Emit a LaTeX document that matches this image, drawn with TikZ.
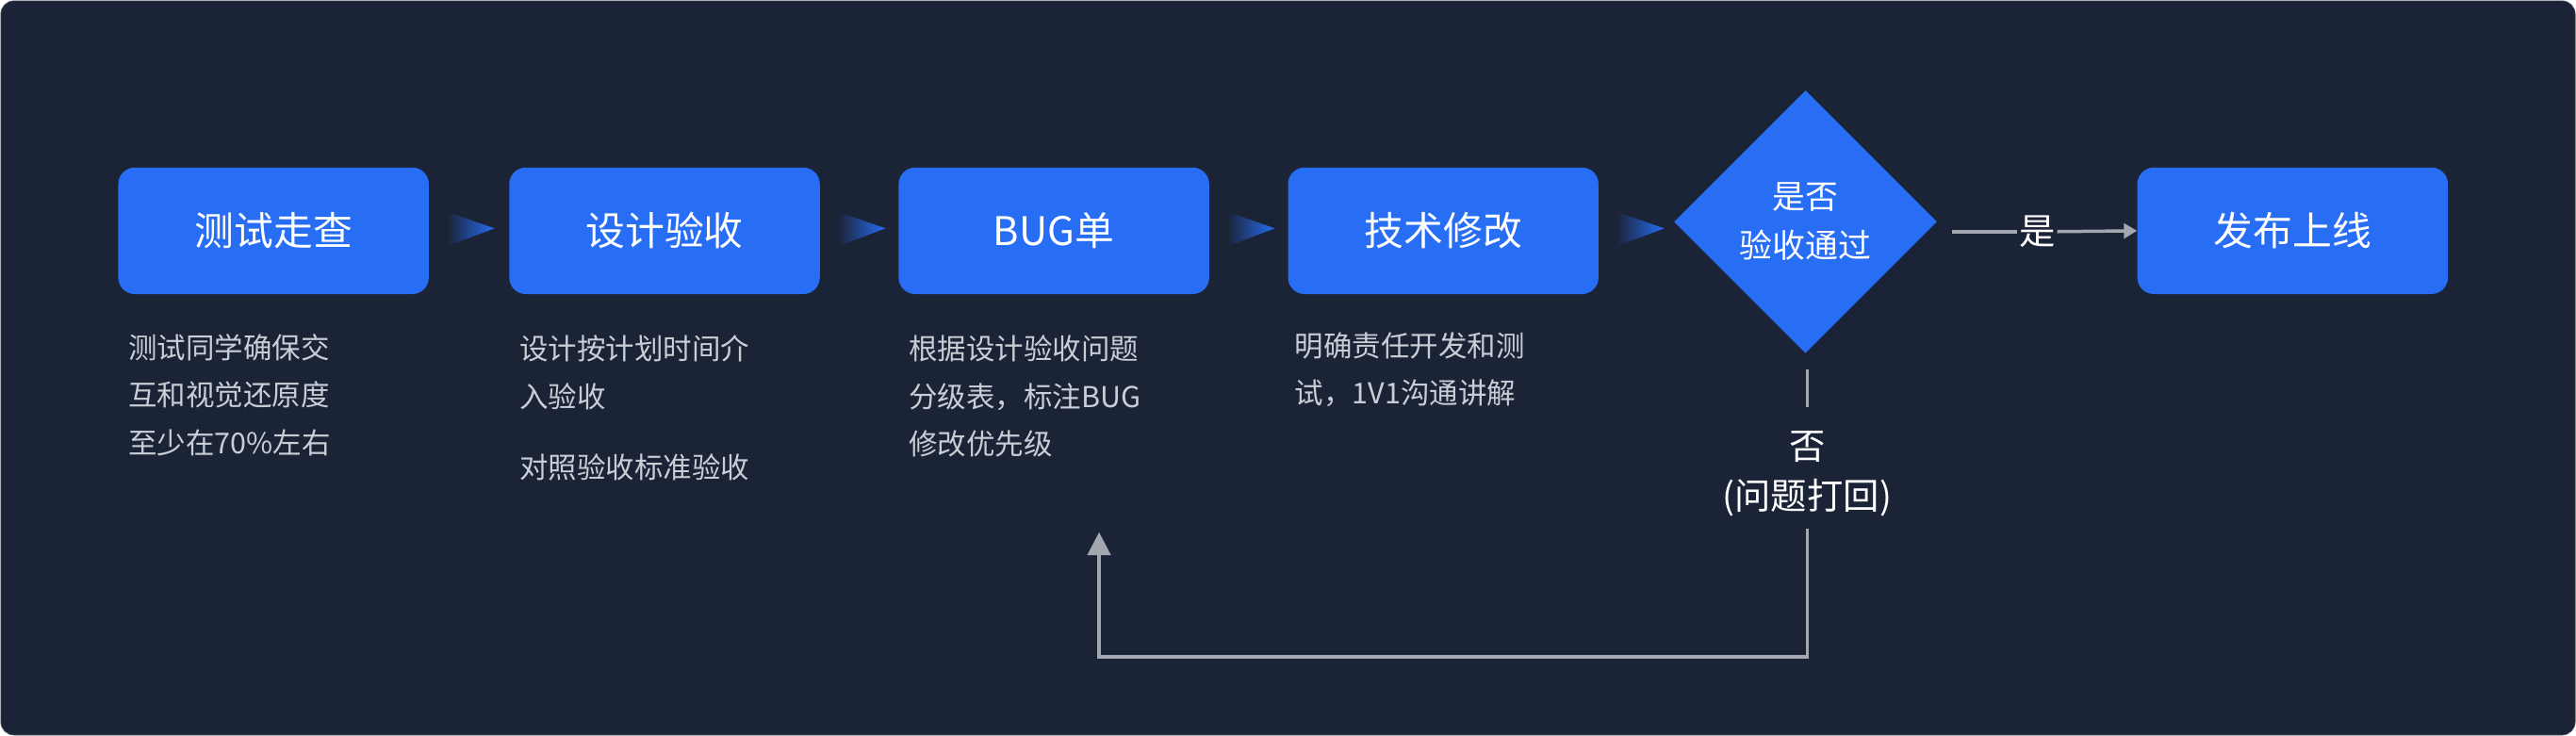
\documentclass[tikz,border=0pt]{standalone}
\usepackage{fontspec}
\setmainfont{Noto Sans CJK SC}
\usetikzlibrary{shapes.geometric,arrows.meta}
\definecolor{bg}{HTML}{1B2336}
\definecolor{bl}{HTML}{276EF5}
\definecolor{tx}{HTML}{C9CDD5}
\definecolor{ln}{HTML}{A3A7AF}
\begin{document}
\begin{tikzpicture}[x=1pt,y=-1pt,
 box/.style={fill=bl,rounded corners=10pt,minimum width=189pt,minimum height=77pt,inner sep=0,text=white,font=\fontsize{24}{28}\selectfont},
 desc/.style={anchor=north west,text=tx,font=\fontsize{17.5}{29}\selectfont,align=left,inner sep=0},
 lab/.style={text=white,font=\fontsize{22}{26}\selectfont,inner sep=1pt}]
\useasboundingbox (0,0) rectangle (1568,448);
\fill[bg,draw=ln!40!bg,rounded corners=8pt] (0.5,0.5) rectangle (1567.5,447.5);
\node[box] (b1) at (166.5,140.5) {测试走查};
\node[box] (b2) at (404.5,140.5) {设计验收};
\node[box] (b3) at (641.5,140.5) {BUG单};
\node[box] (b4) at (878.5,140.5) {技术修改};
\node[diamond,fill=bl,minimum width=160pt,minimum height=160pt,inner sep=0,text=white,align=center,font=\fontsize{20}{30}\selectfont] (d) at (1099,135) {是否\\验收通过};
\node[box] (b6) at (1395.5,140.5) {发布上线};
\foreach \x in {272,510,747,984}{
 \shade[left color=bg,right color=bl] (\x,129) -- (\x+29,139) -- (\x,150) -- cycle;}
\node[desc] (t1) at (78,203) {测试同学确保交\\互和视觉还原度\\至少在70\%左右};
\node[desc] (t2) at (316,204) {设计按计划时间介\\入验收};
\node[desc] (t2b) at (316,276) {对照验收标准验收};
\node[desc] (t3) at (553,204) {根据设计验收问题\\分级表，标注BUG\\修改优先级};
\node[desc] (t4) at (788,202) {明确责任开发和测\\试，1V1沟通讲解};
\node[lab] (yes) at (1240,141) {是};
\draw[ln,line width=2pt] (1188,141) -- (yes.west);
\draw[ln,line width=2pt,-{Triangle[length=8pt,width=9pt]}] (yes.east) -- (b6.west);
\node[lab] (no) at (1100,272) {否};
\node[lab] (no2) at (1100,303) {(问题打回)};
\draw[ln,line width=2pt] (1100,225) -- (1100,248);
\coordinate (c1) at (1100,400);
\coordinate (c2) at (669,400);
\coordinate (c3) at (669,324);
\draw[ln,line width=2pt,-{Triangle[length=14pt,width=14pt]}] (no2.south|-0,322) -- (c1) -- (c2) -- (c3);
\end{tikzpicture}
\end{document}
